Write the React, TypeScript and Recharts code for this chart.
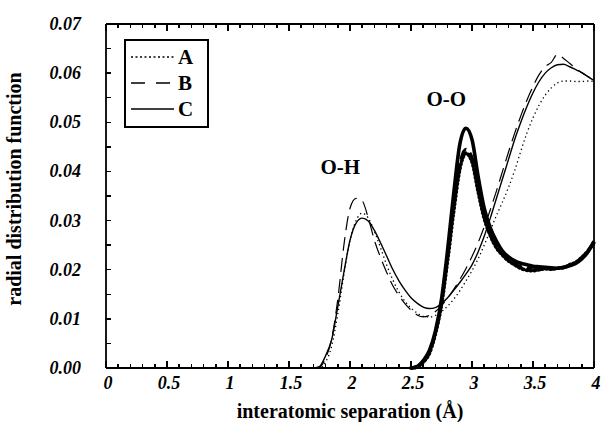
import React from 'react';
import { LineChart, Line, XAxis, YAxis, Legend, ReferenceDot } from 'recharts';

// interatomic separation (Å)
const rVals = [
    1.7, 1.75, 1.8, 1.85, 1.9, 1.95, 2, 2.05, 2.1, 2.15, 2.2, 2.25, 2.3, 2.35, 2.4, 2.45,
    2.5, 2.55, 2.6, 2.65, 2.7, 2.75, 2.8, 2.85, 2.9, 2.95, 3, 3.05, 3.1, 3.15, 3.2, 3.25,
    3.3, 3.35, 3.4, 3.45, 3.5, 3.55, 3.6, 3.65, 3.7, 3.75, 3.8, 3.85, 3.9, 3.95, 4,
];

// O-H radial distribution, thin lines
const ohA = [
    0, 0, 0.0012, 0.0045, 0.011, 0.019, 0.026, 0.03, 0.0315, 0.0305,
    0.0278, 0.0245, 0.021, 0.018, 0.0155, 0.0136, 0.0122, 0.0112, 0.0105, 0.0104,
    0.0107, 0.0115, 0.0126, 0.014, 0.0157, 0.0177, 0.0198, 0.0222, 0.025, 0.028,
    0.031, 0.0338, 0.0368, 0.0402, 0.0441, 0.0478, 0.0509, 0.0535, 0.0555, 0.057,
    0.058, 0.0584, 0.0584, 0.0583, 0.0583, 0.0584, 0.0583,
];
const ohB = [
    0, 0.0002, 0.002, 0.006, 0.014, 0.025, 0.0325, 0.0345, 0.034, 0.0305,
    0.026, 0.0225, 0.0195, 0.0168, 0.0148, 0.0131, 0.0118, 0.0108, 0.0104, 0.0107,
    0.0115, 0.0127, 0.0142, 0.016, 0.018, 0.0202, 0.0227, 0.0255, 0.0287, 0.0322,
    0.036, 0.04, 0.044, 0.0478, 0.0513, 0.0545, 0.0573, 0.0597, 0.0613, 0.0622,
    0.0638, 0.063, 0.062, 0.061, 0.0601, 0.0593, 0.0585,
];
const ohC = [
    0, 0.0003, 0.0025, 0.0058, 0.0125, 0.0195, 0.026, 0.0295, 0.0305, 0.0299,
    0.028, 0.0255, 0.0228, 0.0201, 0.0178, 0.0159, 0.0143, 0.0132, 0.0124, 0.0121,
    0.0123, 0.0131, 0.0143, 0.0158, 0.0174, 0.0191, 0.021, 0.0236, 0.0268, 0.0305,
    0.0345, 0.0385, 0.0425, 0.0465, 0.05, 0.0532, 0.056, 0.0583, 0.06, 0.0611,
    0.0617, 0.0618, 0.0613, 0.0607, 0.0601, 0.0593, 0.0585,
];

// O-O radial distribution, thick lines (nothing below 2.5 Å)
const ooA = [
    null, null, null, null, null, null, null, null, null, null, null, null, null, null, null, null,
    0, 0.0002, 0.0012, 0.003, 0.007, 0.013, 0.022, 0.032, 0.0405, 0.0437,
    0.042, 0.036, 0.0305, 0.027, 0.0245, 0.023, 0.0218, 0.021, 0.0203, 0.0199,
    0.0198, 0.02, 0.0202, 0.0201, 0.0203, 0.0204, 0.021, 0.0215, 0.0225, 0.0238, 0.0255,
];
const ooB = [
    null, null, null, null, null, null, null, null, null, null, null, null, null, null, null, null,
    0, 0.0003, 0.0014, 0.0033, 0.0073, 0.0135, 0.0228, 0.0335, 0.0415, 0.0445,
    0.0428, 0.0368, 0.031, 0.0275, 0.025, 0.0233, 0.0221, 0.0212, 0.0206, 0.0203,
    0.0205, 0.0202, 0.0204, 0.0202, 0.0204, 0.0205, 0.0209, 0.0214, 0.0224, 0.0238, 0.0257,
];
const ooC = [
    null, null, null, null, null, null, null, null, null, null, null, null, null, null, null, null,
    0, 0.0003, 0.0015, 0.0035, 0.0075, 0.014, 0.024, 0.0355, 0.0455, 0.0488,
    0.0465, 0.039, 0.0325, 0.0285, 0.0258, 0.0238, 0.0226, 0.0218, 0.0213, 0.021,
    0.0207, 0.0206, 0.0205, 0.0204, 0.0203, 0.0205, 0.0208, 0.0213, 0.0222, 0.0236, 0.0258,
];

const xTicks = Array.from({ length: 41 }, (_, i) => i / 10);
const yTicks = Array.from({ length: 15 }, (_, i) => i / 200);

const legendItems = [
    { name: 'A', dash: '2 2.5' },
    { name: 'B', dash: '14 11' },
    { name: 'C', dash: undefined },
];

const annotations = [
    { text: 'O-H', r: 1.92, g: 0.0409 },
    { text: 'O-O', r: 2.79, g: 0.0549 },
];

const data = rVals.map((r, i) => ({
    r,
    ohA: ohA[i],
    ohB: ohB[i],
    ohC: ohC[i],
    ooA: ooA[i],
    ooB: ooB[i],
    ooC: ooC[i],
}));

const SERIF = '"Liberation Serif", "Times New Roman", serif';
const INK = '#000';
const frame = { stroke: INK, strokeWidth: 1.8 };
const tickStroke = { stroke: INK, strokeWidth: 1.5, shapeRendering: 'crispEdges' };

const isMajorX = (v: number) => Math.round(v * 10) % 5 === 0;
const isMajorY = (v: number) => Math.round(v * 1000) % 10 === 0;

function fmtX(v: number) {
    return String(Math.round(v * 10) / 10);
}

// minor tick marks come from recharts (negative tickSize = inward);
// the longer 0.5 marks are topped up here
const BottomTick = (props: any) => {
    const x = Number(props.x);
    const y = Number(props.y);
    if (!isMajorX(props.payload.value)) return <g />;
    return (
        <g>
            <line x1={x} x2={x} y1={y} y2={y - 7} stroke={INK} strokeWidth={1.5}
                shapeRendering="crispEdges" />
            <text x={x + 2} y={y + 21} textAnchor="middle" fontFamily={SERIF}
                fontStyle="italic" fontWeight="bold" fontSize={18} fill={INK}>
                {fmtX(props.payload.value)}
            </text>
        </g>
    );
};

const TopTick = (props: any) => {
    const x = Number(props.x);
    const y = Number(props.y);
    if (!isMajorX(props.payload.value)) return <g />;
    return <line x1={x} x2={x} y1={y} y2={y + 7} stroke={INK} strokeWidth={1.5} shapeRendering="crispEdges" />;
};

const LeftTick = (props: any) => {
    const x = Number(props.x);
    const y = Number(props.y);
    if (!isMajorY(props.payload.value)) return <g />;
    return (
        <text x={x - 25} y={y + 6} textAnchor="end" fontFamily={SERIF}
            fontStyle="italic" fontWeight="bold" fontSize={18} fill={INK}>
            {props.payload.value.toFixed(2)}
        </text>
    );
};

const LegendBox = () => (
    <svg width={85} height={89}>
        <rect x={1} y={1} width={83} height={87} fill="#fff" stroke={INK} strokeWidth={2} />
        {legendItems.map((item, i) => {
            const cy = 18 + i * 26;
            return (
                <g key={item.name}>
                    <line x1={7} x2={50} y1={cy} y2={cy} stroke={INK} strokeWidth={1.6}
                        strokeDasharray={item.dash} />
                    <text x={54} y={cy + 7} fontFamily={SERIF} fontWeight="bold" fontSize={21} fill={INK}>
                        {item.name}
                    </text>
                </g>
            );
        })}
    </svg>
);

export default function App() {
    return (
        <div style={{ position: 'absolute', left: 0, top: 0, background: '#fff' }}>
            <LineChart width={601} height={422} data={data}
                margin={{ top: 20, right: 3, bottom: 0, left: 0 }}>
                <XAxis xAxisId="x" dataKey="r" type="number" domain={[0, 4]} ticks={xTicks}
                    interval={0} height={54} tickSize={-4} tickMargin={4} tickLine={tickStroke}
                    axisLine={frame} tick={BottomTick}
                    label={{ value: 'interatomic separation (Å)', position: 'insideBottom', offset: 4,
                        fontFamily: SERIF, fontWeight: 'bold', fontSize: 20, fill: INK }} />
                <XAxis xAxisId="top" orientation="top" dataKey="r" type="number" domain={[0, 4]}
                    ticks={xTicks} interval={0} height={4} tickSize={-4} tickMargin={4}
                    tickLine={tickStroke} axisLine={frame} tick={TopTick} />
                <YAxis yAxisId="y" type="number" domain={[0, 0.07]} ticks={yTicks} interval={0}
                    width={106} tickSize={-5} tickMargin={5} tickLine={tickStroke}
                    axisLine={frame} tick={LeftTick}
                    label={{ value: 'radial distribution function', angle: -90, position: 'insideLeft',
                        offset: 14, dy: -7, style: { textAnchor: 'middle' },
                        fontFamily: SERIF, fontWeight: 'bold', fontSize: 20, fill: INK }} />
                <YAxis yAxisId="right" orientation="right" type="number" domain={[0, 0.07]}
                    ticks={yTicks} interval={0} width={4} tickSize={-5} tickMargin={5}
                    tickLine={tickStroke} axisLine={frame} tick={false} />

                <Legend layout="vertical" align="center" verticalAlign="middle" content={<LegendBox />}
                    wrapperStyle={{ left: 124, top: 39, width: 85, height: 89 }} />

                <Line xAxisId="x" yAxisId="y" type="monotone" dataKey="ohA" name="A" stroke={INK}
                    strokeWidth={1.3} strokeDasharray="1.3 3" dot={false} activeDot={false}
                    isAnimationActive={false} />
                <Line xAxisId="x" yAxisId="y" type="monotone" dataKey="ohB" name="B" stroke={INK}
                    strokeWidth={1.2} strokeDasharray="14 7" dot={false} activeDot={false}
                    isAnimationActive={false} />
                <Line xAxisId="x" yAxisId="y" type="monotone" dataKey="ohC" name="C" stroke={INK}
                    strokeWidth={1.4} dot={false} activeDot={false} isAnimationActive={false} />

                <Line xAxisId="x" yAxisId="y" type="monotone" dataKey="ooB" name="B" stroke={INK}
                    strokeWidth={3.2} strokeDasharray="12 5" dot={false} activeDot={false}
                    isAnimationActive={false} legendType="none" />
                <Line xAxisId="x" yAxisId="y" type="monotone" dataKey="ooA" name="A" stroke={INK}
                    strokeWidth={3.8} strokeDasharray="1 3" strokeLinecap="round" dot={false}
                    activeDot={false} isAnimationActive={false} legendType="none" />
                <Line xAxisId="x" yAxisId="y" type="monotone" dataKey="ooC" name="C" stroke={INK}
                    strokeWidth={3.6} dot={false} activeDot={false} isAnimationActive={false}
                    legendType="none" />

                {annotations.map((a) => (
                    <ReferenceDot key={a.text} xAxisId="x" yAxisId="y" x={a.r} y={a.g} r={0}
                        fill="none" stroke="none"
                        label={{ value: a.text, position: 'center', fontFamily: SERIF,
                            fontWeight: 'bold', fontSize: 21, fill: INK }} />
                ))}
            </LineChart>
        </div>
    );
}
